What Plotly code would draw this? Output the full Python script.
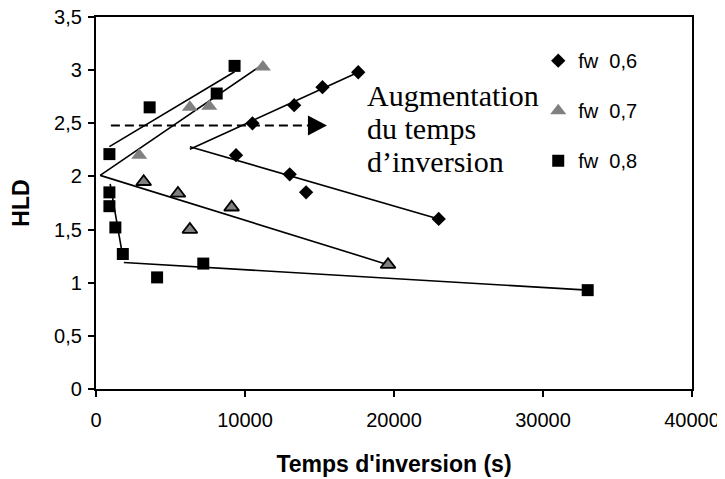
import plotly.graph_objects as go

# ---- data ----
fw06_x = [9400, 10500, 13300, 15200, 17600, 13000, 14100, 23000]
fw06_y = [2.20, 2.50, 2.67, 2.84, 2.98, 2.02, 1.85, 1.60]

# fw 0,7: plain grey triangles and grey triangles with black outline
fw07_x = [2900, 6300, 7600, 11200]
fw07_y = [2.20, 2.65, 2.66, 3.03]
fw07b_x = [3200, 5500, 9100, 6300, 19600]
fw07b_y = [1.95, 1.84, 1.71, 1.50, 1.17]

fw08_x = [900, 3600, 8100, 9300, 900, 900, 1300, 1800, 4100, 7200, 33000]
fw08_y = [2.21, 2.65, 2.78, 3.04, 1.85, 1.72, 1.52, 1.27, 1.05, 1.18, 0.93]

# trend lines (start / end points, data units)
trend_x = [[6300, 17600], [6300, 23000],
           [280, 11150], [280, 19600],
           [900, 9300], [950, 1760], [1870, 33000]]
trend_y = [[2.255, 2.98], [2.28, 1.60],
           [2.01, 3.05], [2.01, 1.17],
           [2.28, 2.985], [1.93, 1.277], [1.19, 0.93]]

# dashed arrow "Augmentation du temps d'inversion"
arrow_x = [1000, 15500]
arrow_y = 2.48
note_lines = ["Augmentation", "du temps", "d\u2019inversion"]
note_x = 18030
note_y = [2.76, 2.45, 2.14]

x_ticks = [0, 10000, 20000, 30000, 40000]
x_ticktext = ["0", "10000", "20000", "30000", "40000"]
y_ticks = [0, 0.5, 1, 1.5, 2, 2.5, 3, 3.5]
y_ticktext = ["0", "0,5", "1", "1,5", "2", "2,5", "3", "3,5"]

GREY = "#808080"
SANS = "Liberation Sans"

fig = go.Figure()

for tx, ty in zip(trend_x, trend_y):
    fig.add_trace(go.Scatter(x=tx, y=ty, mode="lines",
                             line=dict(color="black", width=1.6),
                             showlegend=False, hoverinfo="skip"))

# dashed arrow shaft
fig.add_trace(go.Scatter(x=[arrow_x[0], arrow_x[1] - 1000], y=[arrow_y, arrow_y],
                         mode="lines", line=dict(color="black", width=2, dash="9px,5px"),
                         showlegend=False, hoverinfo="skip"))

fig.add_trace(go.Scatter(x=fw06_x, y=fw06_y, mode="markers", name="fw\u00a0\u00a00,6",
                         legendgroup="a",
                         marker=dict(symbol="diamond", size=11, color="black",
                                     line=dict(width=0))))
fig.add_trace(go.Scatter(x=fw07_x, y=fw07_y, mode="markers", name="fw\u00a0\u00a00,7",
                         legendgroup="b",
                         marker=dict(symbol="triangle-up", size=14, color=GREY,
                                     line=dict(width=0))))
fig.add_trace(go.Scatter(x=fw07b_x, y=fw07b_y, mode="markers", name="fw 0,7b",
                         legendgroup="b", showlegend=False,
                         marker=dict(symbol="triangle-up", size=13, color=GREY,
                                     line=dict(width=1.8, color="black"))))
fig.add_trace(go.Scatter(x=fw08_x, y=fw08_y, mode="markers", name="fw\u00a0\u00a00,8",
                         legendgroup="c",
                         marker=dict(symbol="square", size=12, color="black",
                                     line=dict(width=0))))

shapes = [
    # arrow head
    dict(type="path", xref="x", yref="y", xsizemode="pixel", ysizemode="pixel",
         xanchor=arrow_x[1], yanchor=arrow_y,
         path="M0,0 L-19,10 L-19,-10 Z", fillcolor="black", line=dict(width=0)),
]

annotations = [
    dict(x=note_x, y=ny, xref="x", yref="y", text=t, showarrow=False,
         xanchor="left", yanchor="middle",
         font=dict(family="Liberation Serif", size=30, color="black"))
    for t, ny in zip(note_lines, note_y)
]

fig.update_layout(
    width=717, height=471,
    margin=dict(l=88, r=33, t=9, b=90, autoexpand=False),
    paper_bgcolor="white", plot_bgcolor="white",
    font=dict(family=SANS, size=20, color="black"),
    shapes=shapes, annotations=annotations,
    legend=dict(x=0.742, y=0.935, xanchor="left", yanchor="top",
                bgcolor="rgba(0,0,0,0)", borderwidth=0,
                font=dict(family=SANS, size=20, color="black"),
                tracegroupgap=21, traceorder="grouped",
                itemwidth=30),
)

fig.update_xaxes(range=[0, 40000], tickvals=x_ticks, ticktext=x_ticktext,
                 automargin=False, ticklabeloverflow="allow",
                 showgrid=False, zeroline=False, showline=True, linecolor="black",
                 linewidth=2.2, mirror=True,
                 ticks="outside", ticklen=6, tickwidth=2, tickcolor="black",
                 ticklabelstandoff=6,
                 title=dict(text="<b>Temps d'inversion (s)</b>", standoff=26,
                            font=dict(family=SANS, size=23)))
fig.update_yaxes(range=[0, 3.5], tickvals=y_ticks, ticktext=y_ticktext,
                 automargin=False, ticklabeloverflow="allow",
                 showgrid=False, zeroline=False, showline=True, linecolor="black",
                 linewidth=2.2, mirror=True,
                 ticks="outside", ticklen=6, tickwidth=2, tickcolor="black",
                 ticklabelstandoff=2,
                 title=dict(text="<b>HLD</b>", standoff=19,
                            font=dict(family=SANS, size=23)))

fig.write_html("out.html")
